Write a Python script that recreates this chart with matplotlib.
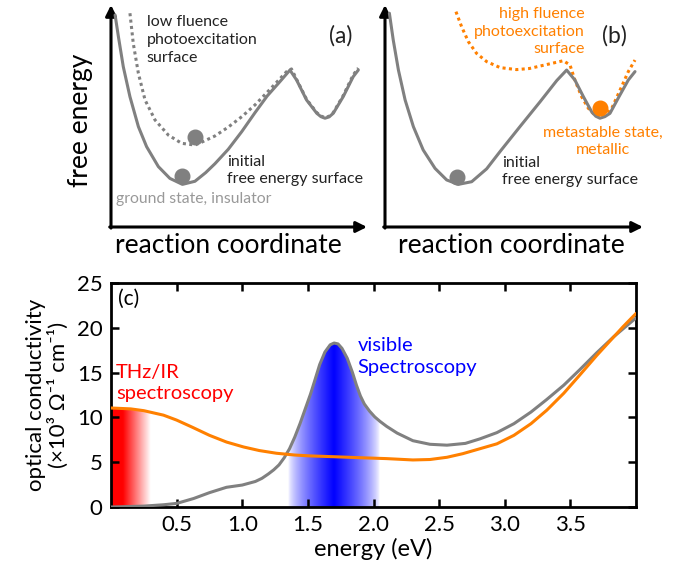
import numpy as np
import matplotlib
matplotlib.use('Agg')
import matplotlib.pyplot as plt

plt.rcParams['font.family'] = ['Lato', 'DejaVu Sans']

GRAY = '#808080'
ORANGE = '#ff8000'

# ---- panel (a): free energy surfaces (reaction coordinate, energy), arbitrary units
a_init_x = [0.016, 0.029, 0.048, 0.074, 0.107, 0.139, 0.185, 0.230, 0.279, 0.328,
            0.370, 0.406, 0.458, 0.511, 0.5625, 0.610, 0.660, 0.699, 0.725, 0.764,
            0.804, 0.820, 0.836, 0.852, 0.868, 0.907, 0.946, 0.966]
a_init_y = [0.955, 0.857, 0.722, 0.587, 0.452, 0.362, 0.272, 0.219, 0.192, 0.206,
            0.245, 0.285, 0.350, 0.430, 0.515, 0.590, 0.655, 0.707, 0.662, 0.572,
            0.512, 0.497, 0.490, 0.496, 0.512, 0.587, 0.677, 0.707]
a_low_x = [0.074, 0.087, 0.107, 0.133, 0.172, 0.224, 0.276, 0.328, 0.354, 0.406,
           0.458, 0.511, 0.5625, 0.621, 0.686, 0.705, 0.725, 0.764, 0.804, 0.820,
           0.836, 0.852, 0.868, 0.907, 0.946, 0.966]
a_low_y = [0.963, 0.827, 0.692, 0.572, 0.482, 0.414, 0.377, 0.369, 0.382, 0.410,
           0.450, 0.497, 0.550, 0.620, 0.700, 0.712, 0.665, 0.575, 0.515, 0.500,
           0.493, 0.499, 0.515, 0.592, 0.685, 0.716]
a_balls_x = [0.328, 0.279]
a_balls_y = [0.407, 0.230]

# ---- panel (b)
b_init_x = [0.017, 0.032, 0.052, 0.078, 0.110, 0.148, 0.194, 0.239, 0.284, 0.336,
            0.394, 0.446, 0.523, 0.601, 0.666, 0.704, 0.736, 0.769, 0.801, 0.817,
            0.833, 0.852, 0.872, 0.907, 0.943, 0.969]
b_init_y = [0.963, 0.842, 0.707, 0.572, 0.452, 0.347, 0.264, 0.212, 0.192, 0.204,
            0.262, 0.340, 0.452, 0.564, 0.660, 0.707, 0.662, 0.587, 0.519, 0.499,
            0.490, 0.497, 0.512, 0.587, 0.662, 0.700]
b_high_x = [0.275, 0.297, 0.323, 0.355, 0.394, 0.446, 0.510, 0.560, 0.601, 0.650,
            0.691, 0.717, 0.736, 0.762, 0.788, 0.812, 0.833, 0.856, 0.879, 0.917,
            0.943, 0.969]
b_high_y = [0.970, 0.902, 0.835, 0.782, 0.745, 0.718, 0.709, 0.714, 0.725, 0.738,
            0.749, 0.730, 0.662, 0.587, 0.535, 0.505, 0.494, 0.505, 0.535, 0.632,
            0.700, 0.752]
b_ball_gray = (0.278, 0.227)
b_ball_orange = (0.833, 0.535)

# ---- panel (c): optical conductivity (x10^3 Ohm^-1 cm^-1) vs energy (eV)
energy_gray = [0.00, 0.25, 0.40, 0.50, 0.63, 0.75, 0.88, 1.00, 1.10, 1.15, 1.20, 1.24,
               1.28, 1.32, 1.36, 1.40, 1.44, 1.52, 1.55, 1.59, 1.63, 1.67, 1.70, 1.73,
               1.76, 1.80, 1.84, 1.87, 1.90, 1.93, 1.97, 2.01, 2.05, 2.10, 2.18, 2.30,
               2.43, 2.56, 2.70, 2.81, 2.94, 3.07, 3.20, 3.32, 3.45, 3.57, 3.70, 3.83, 4.00]
sigma_gray = [0.0, 0.1, 0.25, 0.4, 0.95, 1.6, 2.2, 2.45, 2.85, 3.2, 3.7, 4.15,
              4.7, 5.5, 6.5, 7.8, 9.3, 12.6, 14.0, 15.9, 17.3, 18.1, 18.3, 18.2,
              17.7, 16.6, 15.0, 13.6, 12.4, 11.5, 10.7, 10.05, 9.55, 9.0, 8.25, 7.4,
              7.0, 6.9, 7.1, 7.6, 8.3, 9.3, 10.6, 12.0, 13.6, 15.3, 17.2, 19.0, 21.1]
energy_orange = [0.00, 0.15, 0.25, 0.40, 0.50, 0.62, 0.75, 0.88, 1.01, 1.13, 1.26, 1.40,
                 1.52, 1.72, 1.90, 2.10, 2.30, 2.43, 2.56, 2.68, 2.81, 2.94, 3.07, 3.20,
                 3.32, 3.45, 3.57, 3.70, 3.80, 3.90, 4.00]
sigma_orange = [11.05, 10.95, 10.75, 10.25, 9.7, 8.9, 8.0, 7.25, 6.7, 6.3, 6.0, 5.8,
                5.7, 5.6, 5.5, 5.4, 5.25, 5.3, 5.55, 5.95, 6.5, 7.05, 8.0, 9.3,
                10.8, 12.7, 14.7, 16.9, 18.5, 20.1, 21.6]
xtick_vals = [0.5, 1.0, 1.5, 2.0, 2.5, 3.0, 3.5]
ytick_vals = [0, 5, 10, 15, 20, 25]

fig = plt.figure(figsize=(6.86, 5.73), dpi=100)
W, H = 686, 573


def box(x0, y0, x1, y1):
    return [x0 / W, 1 - y1 / H, (x1 - x0) / W, (y1 - y0) / H]


def arrows(ax):
    kw = dict(arrowstyle='-|>', lw=2.2, color='k', mutation_scale=16, shrinkA=0, shrinkB=0)
    ax.annotate('', xy=(0, 1), xytext=(0, -0.005), xycoords='axes fraction', arrowprops=kw)
    ax.annotate('', xy=(1, 0), xytext=(-0.005, 0), xycoords='axes fraction', arrowprops=kw)
    ax.set_xlim(0, 1)
    ax.set_ylim(0, 1)
    ax.axis('off')


line_kw = dict(lw=2.2, solid_joinstyle='round', solid_capstyle='round')
dot_kw = dict(lw=2.2, ls=(0, (1, 1.1)))

# panel (a)
axa = fig.add_axes(box(111, 5, 367, 227))
arrows(axa)
axa.plot(a_low_x, a_low_y, color=GRAY, zorder=2, **dot_kw)
axa.plot(a_init_x, a_init_y, color=GRAY, zorder=3, **line_kw)
axa.plot(a_balls_x, a_balls_y, 'o', color=GRAY, ms=10.5, zorder=4)
axa.text(0.14, 0.955, 'low fluence\nphotoexcitation\nsurface', fontsize=11.5,
         color='#222222', va='top', linespacing=1.35)
axa.text(0.85, 0.86, '(a)', fontsize=16.5, color='#222222', va='center')
axa.text(0.455, 0.255, 'initial\nfree energy surface', fontsize=11.5, color='#222222',
         va='center', linespacing=1.3)
axa.text(0.02, 0.125, 'ground state, insulator', fontsize=11.3, color='#999999', va='center')
axa.text(0.46, -0.085, 'reaction coordinate', fontsize=19, ha='center', va='center')
axa.text(-0.12, 0.48, 'free energy', fontsize=19, ha='center', va='center', rotation=90,
         transform=axa.transAxes)

# panel (b)
axb = fig.add_axes(box(385, 5, 643, 227))
arrows(axb)
axb.plot(b_init_x, b_init_y, color=GRAY, zorder=3, **line_kw)
axb.plot(b_high_x, b_high_y, color=ORANGE, zorder=2, **dot_kw)
axb.plot(*b_ball_gray, 'o', color=GRAY, ms=10.5, zorder=4)
axb.plot(*b_ball_orange, 'o', color=ORANGE, ms=10.5, zorder=4)
axb.text(0.775, 0.99, 'high fluence\nphotoexcitation\nsurface', fontsize=11.5,
         color=ORANGE, ha='right', va='top', linespacing=1.3)
axb.text(0.84, 0.86, '(b)', fontsize=16.5, color='#222222', va='center')
axb.text(0.845, 0.385, 'metastable state,\nmetallic', fontsize=11.5, color=ORANGE,
         ha='center', va='center', linespacing=1.25)
axb.text(0.455, 0.25, 'initial\nfree energy surface', fontsize=11.5, color='#222222',
         va='center', linespacing=1.3)
axb.text(0.49, -0.085, 'reaction coordinate', fontsize=19, ha='center', va='center')

# panel (c)
axc = fig.add_axes(box(111, 283, 636, 507))
axc.set_xlim(0, 4)
axc.set_ylim(0, 25)

# red gradient under the orange curve
red = np.zeros((2, 200, 4))
red[..., 0] = 1.0
xs = np.linspace(0, 0.3, 200)
red[..., 3] = np.clip((0.30 - xs) / 0.21, 0, 1)
fill_r = axc.fill_between(energy_orange, 0, sigma_orange, color='none', lw=0)
im_r = axc.imshow(red, extent=[0, 0.3, 0, 12], aspect='auto', origin='lower', zorder=1)
im_r.set_clip_path(fill_r.get_paths()[0], transform=axc.transData)

# blue gradient under the gray curve, centred on the peak
blue = np.zeros((2, 300, 4))
blue[..., 2] = 1.0
xb = np.linspace(1.35, 2.05, 300)
blue[..., 3] = np.clip(1 - np.abs(xb - 1.70) / 0.35, 0, 1) ** 0.7
fill_b = axc.fill_between(energy_gray, 0, sigma_gray, color='none', lw=0)
im_b = axc.imshow(blue, extent=[1.35, 2.05, 0, 19], aspect='auto', origin='lower', zorder=1)
im_b.set_clip_path(fill_b.get_paths()[0], transform=axc.transData)

axc.plot(energy_gray, sigma_gray, color=GRAY, zorder=3, **line_kw)
axc.plot(energy_orange, sigma_orange, color=ORANGE, zorder=3, **line_kw)

axc.set_xticks(xtick_vals)
axc.set_xticklabels([f'{v:.1f}' for v in xtick_vals])
axc.set_yticks(ytick_vals)
axc.tick_params(direction='in', top=True, right=True, length=6, width=1.8,
                labelsize=16, pad=6)
for s in axc.spines.values():
    s.set_linewidth(2)
axc.set_xlabel('energy (eV)', fontsize=17, labelpad=2)
axc.set_ylabel('optical conductivity\n(×10³ Ω⁻¹ cm⁻¹)', fontsize=16, labelpad=6,
               linespacing=1.1)

axc.text(0.05, 23.2, '(c)', fontsize=15, va='center')
axc.text(0.04, 13.8, 'THz/IR\nspectroscopy', fontsize=14.5, color='#ff0000', va='center',
         linespacing=1.3)
axc.text(1.88, 16.8, 'visible\nSpectroscopy', fontsize=14.5, color='#0000ff', va='center',
         linespacing=1.3)

fig.savefig('out.png', dpi=100)
